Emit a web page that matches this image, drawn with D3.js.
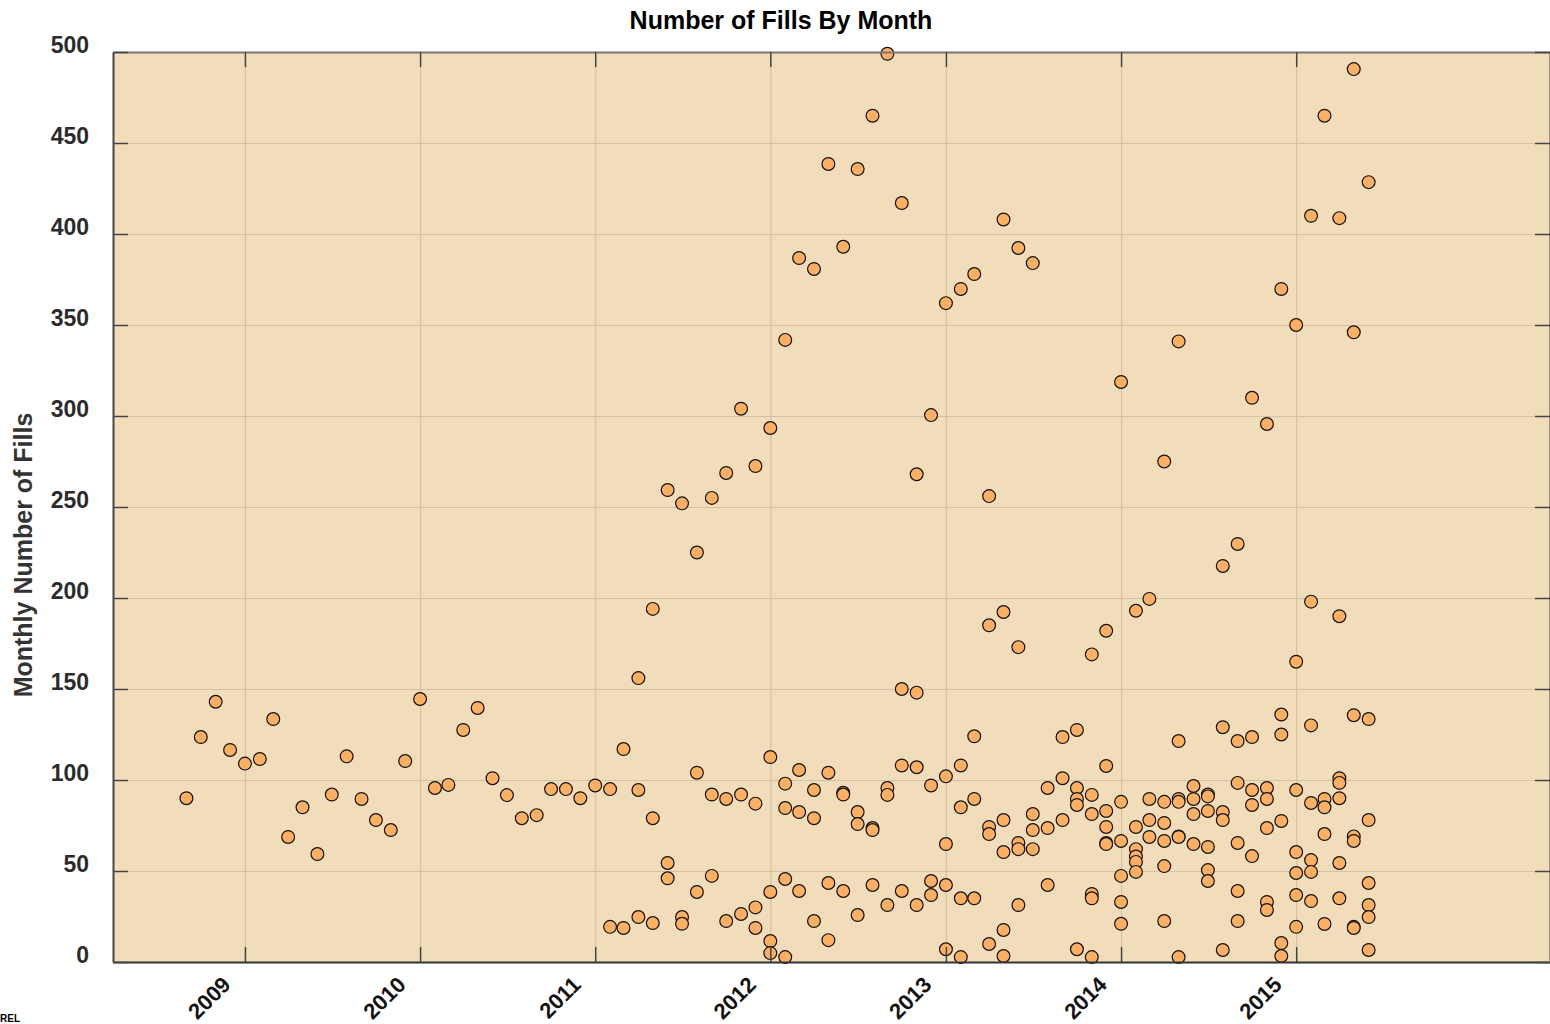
<!DOCTYPE html>
<html>
<head>
<meta charset="utf-8">
<script src="https://cdn.jsdelivr.net/npm/d3@7.9.0/dist/d3.min.js"></script>
<style>
  body { margin: 0; background: #fff; }
  svg { display: block; font-family: "Liberation Sans", Arial, sans-serif; }
</style>
</head>
<body>
<svg id="chart" width="1550" height="1024"></svg>
<script>
// month of each observation group
const months = [
  "2008-09", "2008-10", "2008-11", "2008-12",
  "2009-01", "2009-02", "2009-03", "2009-04", "2009-05", "2009-06",
  "2009-07", "2009-08", "2009-09", "2009-10", "2009-11", "2009-12",
  "2010-01", "2010-02", "2010-03", "2010-04", "2010-05", "2010-06",
  "2010-07", "2010-08", "2010-09", "2010-10", "2010-11", "2010-12",
  "2011-01", "2011-02", "2011-03", "2011-04", "2011-05", "2011-06",
  "2011-07", "2011-08", "2011-09", "2011-10", "2011-11", "2011-12",
  "2012-01", "2012-02", "2012-03", "2012-04", "2012-05", "2012-06",
  "2012-07", "2012-08", "2012-09", "2012-10", "2012-11", "2012-12",
  "2013-01", "2013-02", "2013-03", "2013-04", "2013-05", "2013-06",
  "2013-07", "2013-08", "2013-09", "2013-10", "2013-11", "2013-12",
  "2014-01", "2014-02", "2014-03", "2014-04", "2014-05", "2014-06",
  "2014-07", "2014-08", "2014-09", "2014-10", "2014-11", "2014-12",
  "2015-01", "2015-02", "2015-03", "2015-04", "2015-05", "2015-06"
];

// monthly number of fills, one list per month (all stations shown that month)
const fills = [
  [90], [123.6], [143], [116.5],
  [109], [111.5], [133.5], [68.7], [85], [59.3],
  [92], [113], [89.6], [78], [72.5], [110.4],
  [144.5], [95.6], [97.3], [127.5], [139.6], [101],
  [91.7], [79], [80.7], [95], [95], [90],
  [97], [95, 19.3], [117, 18.7], [156, 94.5, 24.7], [194, 79, 21.4], [259.3, 54.4, 46],
  [252, 24.7, 21], [225, 104, 38.5], [255, 92, 47.3], [268.7, 89.6, 22.5], [304, 92, 26.4], [272.5, 87, 30, 18.7],
  [293.4, 112.6, 38.5, 11.5, 4.9], [341.8, 98, 84.6, 45.6, 2.7], [386.8, 105.5, 82.4, 39],
  [380.8, 94.5, 79, 22.5], [438.5, 104, 43.4, 12], [393, 93, 92, 39],
  [435.7, 82.4, 75.8, 25.8], [465, 73.6, 72.5, 42.3], [499, 95.6, 91.8, 31.3],
  [417, 150, 108, 39], [268, 148, 107, 31.3], [300.5, 97, 44.5, 36.8],
  [362, 102, 64.8, 42.3, 7], [369.8, 108, 85, 35, 2.7], [378, 124, 89.6, 35],
  [256, 185, 74.2, 70.3, 9.9], [408, 192.3, 78, 60.4, 17.6, 3.3], [392.3, 173, 65.4, 62, 31.3],
  [384, 81.3, 72.5, 62], [95.6, 73.6, 42.3], [123.6, 101, 78],
  [127.5, 95.6, 89.6, 86.3, 7], [169, 91.8, 81.3, 37.4, 35, 2.7], [182, 107.7, 83, 74.2, 65.4, 64.8],
  [318.7, 88, 66.5, 47.3, 33, 21], [193, 74.2, 62, 58, 55, 49.5], [199.5, 89.6, 78, 68.7],
  [275, 88, 76.4, 66.5, 52.7, 22.5], [341, 121.4, 89.6, 88, 69, 68.7, 2.7], [96.7, 89.6, 81.3, 64.8],
  [92, 91, 83, 63.2, 50.5, 44.5], [217.6, 129, 82.4, 78, 6.6], [229.7, 121.4, 98.4, 65.4, 39, 22.5],
  [310, 123.6, 94.5, 86.3, 58.2], [295.6, 95.6, 89.6, 73.6, 33, 28.6], [369.8, 136, 125, 77.5, 10.4, 3.3],
  [350, 165, 94.5, 60.4, 48.9, 36.8, 19.3], [410, 198, 130, 87.4, 56, 49.5, 33.5], [465, 89.6, 85, 70.3, 20.9],
  [408.7, 190, 101, 98.4, 90, 54.4, 35], [490.6, 346, 135.6, 69, 66.5, 19.3, 18.7], [428.5, 133.5, 78, 43.4, 31.3, 24.7, 6.6]
];

const xTickYears = [2009, 2010, 2011, 2012, 2013, 2014, 2015];
const yTicks = [0, 50, 100, 150, 200, 250, 300, 350, 400, 450, 500];

const width = 1550, height = 1024;
const margin = { top: 52, right: 0, bottom: 62, left: 113 };
const innerW = width - margin.left - margin.right;
const innerH = height - margin.top - margin.bottom;

const parseMonth = d3.timeParse('%Y-%m');

// flatten into points
const points = [];
months.forEach((m, i) => {
  fills[i].forEach(v => points.push({ date: parseMonth(m), value: v }));
});

const x = d3.scaleTime()
  .domain([new Date(2008, 3, 1), new Date(2016, 5, 13)])
  .range([0, innerW]);
const y = d3.scaleLinear().domain([0, 500]).range([innerH, 0]);

const tickDates = xTickYears.map(yr => new Date(yr, 0, 1));

const svg = d3.select('#chart');
const g = svg.append('g').attr('transform', `translate(${margin.left},${margin.top})`);

// plot background
g.append('rect')
  .attr('width', innerW)
  .attr('height', innerH)
  .attr('fill', '#f2ddba');

// grid lines
const gridColor = '#d2c2a3';
g.append('g')
  .attr('class', 'grid-x')
  .attr('transform', `translate(0,${innerH})`)
  .call(d3.axisBottom(x).tickValues(tickDates).tickSize(-innerH).tickFormat(''))
  .call(s => s.select('.domain').remove())
  .call(s => s.selectAll('line').attr('stroke', gridColor).attr('stroke-width', 1.2));

g.append('g')
  .attr('class', 'grid-y')
  .call(d3.axisLeft(y).tickValues(yTicks).tickSize(-innerW).tickFormat(''))
  .call(s => s.select('.domain').remove())
  .call(s => s.selectAll('line').attr('stroke', gridColor).attr('stroke-width', 1.2));

// points
g.append('g')
  .selectAll('circle')
  .data(points)
  .join('circle')
  .attr('cx', d => x(d.date))
  .attr('cy', d => y(d.value))
  .attr('r', 6.4)
  .attr('fill', '#fdb063')
  .attr('stroke', '#111')
  .attr('stroke-width', 1.2);

// frame + inside ticks
const tickLen = 15;
function styleAxis(s, color) {
  s.selectAll('text').remove();
  s.select('.domain').attr('stroke', color).attr('stroke-width', 2);
  s.selectAll('.tick line').attr('stroke', '#444').attr('stroke-width', 1.5);
}
g.append('g')
  .attr('transform', `translate(0,${innerH})`)
  .call(d3.axisBottom(x).tickValues(tickDates).tickSize(-tickLen).tickSizeOuter(0))
  .call(s => styleAxis(s, '#333'));
g.append('g')
  .call(d3.axisTop(x).tickValues(tickDates).tickSize(-tickLen).tickSizeOuter(0))
  .call(s => styleAxis(s, '#777'));
g.append('g')
  .call(d3.axisLeft(y).tickValues(yTicks).tickSize(-tickLen).tickSizeOuter(0))
  .call(s => styleAxis(s, '#444'));
g.append('g')
  .attr('transform', `translate(${innerW},0)`)
  .call(d3.axisRight(y).tickValues(yTicks).tickSize(-tickLen).tickSizeOuter(0))
  .call(s => styleAxis(s, '#444'));

// y tick labels
g.append('g')
  .selectAll('text')
  .data(yTicks)
  .join('text')
  .attr('x', -24)
  .attr('y', d => y(d) + 1)
  .attr('text-anchor', 'end')
  .attr('font-size', 23)
  .attr('font-weight', 'bold')
  .attr('fill', '#2b2b2b')
  .text(d => d);

// x tick labels, rotated
g.append('g')
  .selectAll('text')
  .data(tickDates)
  .join('text')
  .attr('transform', d => `translate(${x(d) - 13},${innerH + 24}) rotate(-45)`)
  .attr('text-anchor', 'end')
  .attr('font-size', 22)
  .attr('font-weight', 'bold')
  .attr('fill', '#111')
  .text(d => d3.timeFormat('%Y')(d));

// title
svg.append('text')
  .attr('x', 781)
  .attr('y', 29)
  .attr('text-anchor', 'middle')
  .attr('font-size', 25)
  .attr('font-weight', 'bold')
  .attr('fill', '#000')
  .text('Number of Fills By Month');

// y axis label
svg.append('text')
  .attr('transform', 'translate(32,555) rotate(-90)')
  .attr('text-anchor', 'middle')
  .attr('font-size', 25)
  .attr('font-weight', 'bold')
  .attr('fill', '#333')
  .text('Monthly Number of Fills');

// source credit (cut off at left edge)
svg.append('text')
  .attr('x', 0)
  .attr('y', 1022)
  .attr('font-size', 10)
  .attr('font-weight', 'bold')
  .attr('fill', '#000')
  .text('REL');
</script>
</body>
</html>
